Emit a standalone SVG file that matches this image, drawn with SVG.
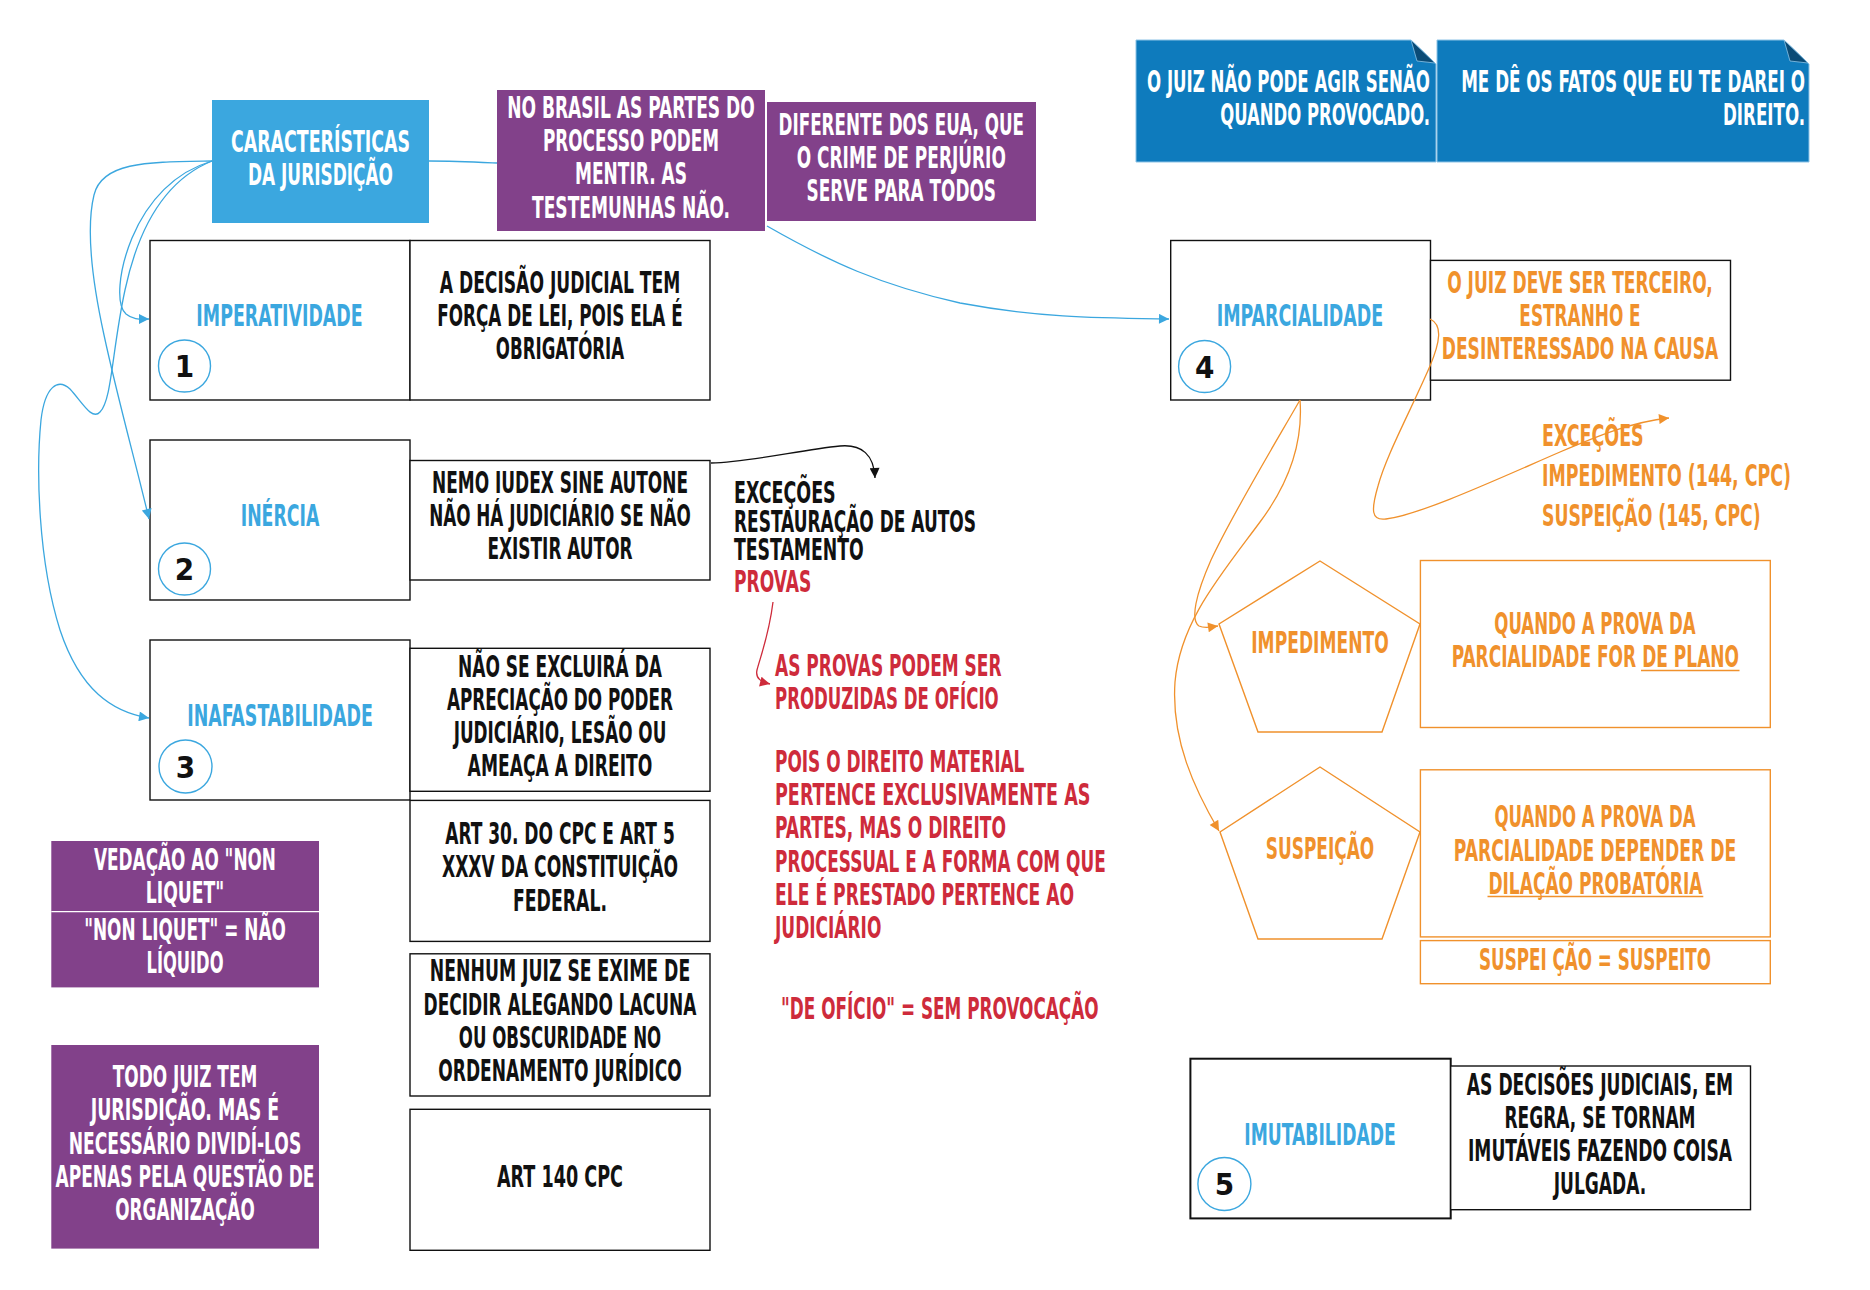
<svg xmlns="http://www.w3.org/2000/svg" width="1870" height="1290" viewBox="0 0 1870 1290">
<defs>
<style>
text{font-family:"Liberation Sans Narrow","DejaVu Sans Condensed","Liberation Sans",sans-serif;font-weight:700;font-size:31px;}
.c{text-anchor:middle}
.e{text-anchor:end}
.w{fill:#ffffff}
.k{fill:#111111}
.b{fill:#3BA7DF}
.o{fill:#F0912C}
.r{fill:#CE2B3B}
.box{fill:#ffffff;stroke:#111111;stroke-width:1.4}
.obox{fill:#ffffff;stroke:#F0912C;stroke-width:1.4}
.circ{fill:#ffffff;stroke:#3BA7DF;stroke-width:1.4}
.bl{fill:none;stroke:#3BA7DF;stroke-width:1.3}
.ol{fill:none;stroke:#F0912C;stroke-width:1.3}
.kl{fill:none;stroke:#111111;stroke-width:1.3}
.rl{fill:none;stroke:#CE2B3B;stroke-width:1.3}
.note{fill:#0E7BBD;stroke:#8CC3E6;stroke-width:1}
.purple{fill:#82418A}
</style>
<marker id="mb" viewBox="0 0 10 10" refX="10" refY="5" markerWidth="15" markerHeight="10" markerUnits="userSpaceOnUse" orient="auto"><path d="M0,0 L10,5 L0,10 z" fill="#3BA7DF"/></marker>
<marker id="mo" viewBox="0 0 10 10" refX="10" refY="5" markerWidth="15" markerHeight="10" markerUnits="userSpaceOnUse" orient="auto"><path d="M0,0 L10,5 L0,10 z" fill="#F0912C"/></marker>
<marker id="mk" viewBox="0 0 10 10" refX="10" refY="5" markerWidth="15" markerHeight="10" markerUnits="userSpaceOnUse" orient="auto"><path d="M0,0 L10,5 L0,10 z" fill="#111111"/></marker>
<marker id="mr" viewBox="0 0 10 10" refX="10" refY="5" markerWidth="15" markerHeight="10" markerUnits="userSpaceOnUse" orient="auto"><path d="M0,0 L10,5 L0,10 z" fill="#CE2B3B"/></marker>
</defs>
<rect x="0" y="0" width="1870" height="1290" fill="#ffffff"/>

<g id="caracteristicas">
<rect x="212" y="100" width="217" height="123" fill="#3BA7DF"/>
<text class="w c" x="320.5" y="152" textLength="179" lengthAdjust="spacingAndGlyphs">CARACTERÍSTICAS</text>
<text class="w c" x="320.5" y="185" textLength="145" lengthAdjust="spacingAndGlyphs">DA JURISDIÇÃO</text>
</g>

<g id="brasil">
<rect x="497" y="90" width="268" height="141" class="purple"/>
<text class="w c" x="631" y="118" textLength="247.6" lengthAdjust="spacingAndGlyphs">NO BRASIL AS PARTES DO</text>
<text class="w c" x="631" y="151" textLength="176" lengthAdjust="spacingAndGlyphs">PROCESSO PODEM</text>
<text class="w c" x="631" y="184" textLength="112" lengthAdjust="spacingAndGlyphs">MENTIR. AS</text>
<text class="w c" x="631" y="218" textLength="198" lengthAdjust="spacingAndGlyphs">TESTEMUNHAS NÃO.</text>
</g>

<g id="eua">
<rect x="767" y="102" width="269" height="119" class="purple"/>
<text class="w c" x="901.3" y="134.5" textLength="245.5" lengthAdjust="spacingAndGlyphs">DIFERENTE DOS EUA, QUE</text>
<text class="w c" x="901.3" y="167.7" textLength="209" lengthAdjust="spacingAndGlyphs">O CRIME DE PERJÚRIO</text>
<text class="w c" x="901.3" y="201" textLength="189.4" lengthAdjust="spacingAndGlyphs">SERVE PARA TODOS</text>
</g>

<g id="note1">
<path class="note" d="M1136,40 L1411,40 L1436,64 L1436,162 L1136,162 Z"/>
<path d="M1411,40 L1435,63 L1417,61 Z" fill="#0A4B76" stroke="#8CC3E6" stroke-width="0.8"/>
<text class="w e" x="1430" y="92" textLength="283" lengthAdjust="spacingAndGlyphs">O JUIZ NÃO PODE AGIR SENÃO</text>
<text class="w e" x="1430" y="125" textLength="209.7" lengthAdjust="spacingAndGlyphs">QUANDO PROVOCADO.</text>
</g>

<g id="note2">
<path class="note" d="M1437,40 L1784,40 L1809,64 L1809,162 L1437,162 Z"/>
<path d="M1784,40 L1808,63 L1790,61 Z" fill="#0A4B76" stroke="#8CC3E6" stroke-width="0.8"/>
<text class="w e" x="1805" y="92" textLength="343.8" lengthAdjust="spacingAndGlyphs">ME DÊ OS FATOS QUE EU TE DAREI O</text>
<text class="w e" x="1805" y="125" textLength="82" lengthAdjust="spacingAndGlyphs">DIREITO.</text>
</g>

<g id="imperatividade">
<rect x="150" y="240.5" width="260" height="159.5" class="box"/>
<text class="b c" x="279.5" y="326" textLength="166.3" lengthAdjust="spacingAndGlyphs">IMPERATIVIDADE</text>
<circle cx="184.5" cy="366" r="26" class="circ"/>
<text class="k c" x="184.5" y="377">1</text>
</g>
<g id="imperatividade-desc">
<rect x="410" y="240.5" width="300" height="159.5" class="box"/>
<text class="k c" x="560" y="293" textLength="240.6" lengthAdjust="spacingAndGlyphs">A DECISÃO JUDICIAL TEM</text>
<text class="k c" x="560" y="326" textLength="245.5" lengthAdjust="spacingAndGlyphs">FORÇA DE LEI, POIS ELA É</text>
<text class="k c" x="560" y="359" textLength="128.4" lengthAdjust="spacingAndGlyphs">OBRIGATÓRIA</text>
</g>

<g id="inercia">
<rect x="150" y="440" width="260" height="160" class="box"/>
<text class="b c" x="280" y="526" textLength="78.6" lengthAdjust="spacingAndGlyphs">INÉRCIA</text>
<circle cx="184.5" cy="569" r="26" class="circ"/>
<text class="k c" x="184.5" y="580">2</text>
</g>
<g id="inercia-desc">
<rect x="410" y="460.5" width="300" height="119.5" class="box"/>
<text class="k c" x="560" y="493" textLength="256" lengthAdjust="spacingAndGlyphs">NEMO IUDEX SINE AUTONE</text>
<text class="k c" x="560" y="526" textLength="261.7" lengthAdjust="spacingAndGlyphs">NÃO HÁ JUDICIÁRIO SE NÃO</text>
<text class="k c" x="560" y="559" textLength="145.2" lengthAdjust="spacingAndGlyphs">EXISTIR AUTOR</text>
</g>

<g id="excecoes-inercia">
<text class="k" x="734" y="503" textLength="101.7" lengthAdjust="spacingAndGlyphs" style="font-size:30px">EXCEÇÕES</text>
<text class="k" x="734" y="532" textLength="242" lengthAdjust="spacingAndGlyphs" style="font-size:30px">RESTAURAÇÃO DE AUTOS</text>
<text class="k" x="734" y="560" textLength="129.8" lengthAdjust="spacingAndGlyphs" style="font-size:30px">TESTAMENTO</text>
<text class="r" x="734" y="592" textLength="77.2" lengthAdjust="spacingAndGlyphs">PROVAS</text>
</g>

<g id="provas-nota">
<text class="r" x="775" y="676" textLength="226.6" lengthAdjust="spacingAndGlyphs">AS PROVAS PODEM SER</text>
<text class="r" x="775" y="709" textLength="223.7" lengthAdjust="spacingAndGlyphs">PRODUZIDAS DE OFÍCIO</text>
<text class="r" x="775" y="772" textLength="249.4" lengthAdjust="spacingAndGlyphs">POIS O DIREITO MATERIAL</text>
<text class="r" x="775" y="805" textLength="315.4" lengthAdjust="spacingAndGlyphs">PERTENCE EXCLUSIVAMENTE AS</text>
<text class="r" x="775" y="838.4" textLength="231" lengthAdjust="spacingAndGlyphs">PARTES, MAS O DIREITO</text>
<text class="r" x="775" y="871.6" textLength="330.8" lengthAdjust="spacingAndGlyphs">PROCESSUAL E A FORMA COM QUE</text>
<text class="r" x="775" y="904.7" textLength="299.2" lengthAdjust="spacingAndGlyphs">ELE É PRESTADO PERTENCE AO</text>
<text class="r" x="775" y="938" textLength="106.4" lengthAdjust="spacingAndGlyphs">JUDICIÁRIO</text>
<text class="r" x="781" y="1018.7" textLength="317.6" lengthAdjust="spacingAndGlyphs">"DE OFÍCIO" = SEM PROVOCAÇÃO</text>
</g>

<g id="inafastabilidade">
<rect x="150" y="640" width="260" height="160" class="box"/>
<text class="b c" x="280" y="725.6" textLength="185.6" lengthAdjust="spacingAndGlyphs">INAFASTABILIDADE</text>
<circle cx="185.5" cy="766.5" r="26.5" class="circ"/>
<text class="k c" x="185.5" y="777.5">3</text>
</g>
<g id="inafastabilidade-desc">
<rect x="410" y="648.3" width="300" height="143" class="box"/>
<text class="k c" x="560" y="676.7" textLength="204" lengthAdjust="spacingAndGlyphs">NÃO SE EXCLUIRÁ DA</text>
<text class="k c" x="560" y="710" textLength="226" lengthAdjust="spacingAndGlyphs">APRECIAÇÃO DO PODER</text>
<text class="k c" x="560" y="743" textLength="212.7" lengthAdjust="spacingAndGlyphs">JUDICIÁRIO, LESÃO OU</text>
<text class="k c" x="560" y="776" textLength="184.8" lengthAdjust="spacingAndGlyphs">AMEAÇA A DIREITO</text>
</g>

<g id="art30">
<rect x="410" y="800.4" width="300" height="141" class="box"/>
<text class="k c" x="560" y="843.8" textLength="229.6" lengthAdjust="spacingAndGlyphs">ART 30. DO CPC E ART 5</text>
<text class="k c" x="560" y="877" textLength="236" lengthAdjust="spacingAndGlyphs">XXXV DA CONSTITUIÇÃO</text>
<text class="k c" x="560" y="911" textLength="94" lengthAdjust="spacingAndGlyphs">FEDERAL.</text>
</g>

<g id="nenhum-juiz">
<rect x="410" y="953.8" width="300" height="142.2" class="box"/>
<text class="k c" x="560" y="981.4" textLength="260.4" lengthAdjust="spacingAndGlyphs">NENHUM JUIZ SE EXIME DE</text>
<text class="k c" x="560" y="1014.6" textLength="272.8" lengthAdjust="spacingAndGlyphs">DECIDIR ALEGANDO LACUNA</text>
<text class="k c" x="560" y="1047.8" textLength="202.4" lengthAdjust="spacingAndGlyphs">OU OBSCURIDADE NO</text>
<text class="k c" x="560" y="1081" textLength="243.5" lengthAdjust="spacingAndGlyphs">ORDENAMENTO JURÍDICO</text>
</g>

<g id="art140">
<rect x="410" y="1109.3" width="300" height="141" class="box"/>
<text class="k c" x="560" y="1186.7" textLength="126" lengthAdjust="spacingAndGlyphs">ART 140 CPC</text>
</g>

<g id="non-liquet">
<rect x="51.3" y="841" width="267.7" height="146.4" class="purple"/>
<line x1="51.3" y1="911.6" x2="319" y2="911.6" stroke="#ffffff" stroke-width="1.2"/>
<text class="w c" x="185" y="869.5" textLength="182" lengthAdjust="spacingAndGlyphs">VEDAÇÃO AO "NON</text>
<text class="w c" x="185" y="902.7" textLength="78.5" lengthAdjust="spacingAndGlyphs">LIQUET"</text>
<text class="w c" x="185" y="940" textLength="201.7" lengthAdjust="spacingAndGlyphs">"NON LIQUET" = NÃO</text>
<text class="w c" x="185" y="973" textLength="77" lengthAdjust="spacingAndGlyphs">LÍQUIDO</text>
</g>

<g id="todo-juiz">
<rect x="51.3" y="1045" width="267.7" height="203.6" class="purple"/>
<text class="w c" x="185" y="1087" textLength="144.5" lengthAdjust="spacingAndGlyphs">TODO JUIZ TEM</text>
<text class="w c" x="185" y="1120.3" textLength="188.5" lengthAdjust="spacingAndGlyphs">JURISDIÇÃO. MAS É</text>
<text class="w c" x="185" y="1153.5" textLength="232.5" lengthAdjust="spacingAndGlyphs">NECESSÁRIO DIVIDÍ-LOS</text>
<text class="w c" x="185" y="1186.7" textLength="259" lengthAdjust="spacingAndGlyphs">APENAS PELA QUESTÃO DE</text>
<text class="w c" x="185" y="1219.8" textLength="139.4" lengthAdjust="spacingAndGlyphs">ORGANIZAÇÃO</text>
</g>

<g id="imparcialidade">
<rect x="1170.7" y="240.5" width="259.8" height="159.5" class="box"/>
<text class="b c" x="1300" y="326" textLength="166.5" lengthAdjust="spacingAndGlyphs">IMPARCIALIDADE</text>
<circle cx="1204.6" cy="366.5" r="26" class="circ"/>
<text class="k c" x="1204.6" y="377.5">4</text>
</g>
<g id="imparcialidade-desc">
<rect x="1430.5" y="260.4" width="300" height="119.8" class="box"/>
<text class="o c" x="1580" y="293" textLength="265.7" lengthAdjust="spacingAndGlyphs">O JUIZ DEVE SER TERCEIRO,</text>
<text class="o c" x="1580" y="326" textLength="121.3" lengthAdjust="spacingAndGlyphs">ESTRANHO E</text>
<text class="o c" x="1580" y="359" textLength="276.5" lengthAdjust="spacingAndGlyphs">DESINTERESSADO NA CAUSA</text>
</g>

<g id="excecoes-imparcialidade">
<text class="o" x="1542" y="446" textLength="101.7" lengthAdjust="spacingAndGlyphs">EXCEÇÕES</text>
<text class="o" x="1542" y="486" textLength="249" lengthAdjust="spacingAndGlyphs">IMPEDIMENTO (144, CPC)</text>
<text class="o" x="1542" y="526" textLength="218.6" lengthAdjust="spacingAndGlyphs">SUSPEIÇÃO (145, CPC)</text>
</g>

<g id="impedimento">
<polygon points="1320,561 1420,624 1382,732 1258,732 1219,624" class="obox"/>
<text class="o c" x="1320" y="652.6" textLength="137.5" lengthAdjust="spacingAndGlyphs">IMPEDIMENTO</text>
</g>
<g id="impedimento-desc">
<rect x="1420.4" y="560.5" width="349.9" height="167" class="obox"/>
<text class="o c" x="1595" y="634" textLength="201.4" lengthAdjust="spacingAndGlyphs">QUANDO A PROVA DA</text>
<text class="o c" x="1595.4" y="667" textLength="287.4" lengthAdjust="spacingAndGlyphs">PARCIALIDADE FOR DE PLANO</text>
<line x1="1641" y1="670.5" x2="1739.5" y2="670.5" stroke="#F0912C" stroke-width="1.6"/>
</g>

<g id="suspeicao">
<polygon points="1320,767 1420,832 1382,939 1258,939 1220,832" class="obox"/>
<text class="o c" x="1320" y="859" textLength="108.4" lengthAdjust="spacingAndGlyphs">SUSPEIÇÃO</text>
</g>
<g id="suspeicao-desc">
<rect x="1420.4" y="769.8" width="349.9" height="167.1" class="obox"/>
<text class="o c" x="1595" y="827.4" textLength="201" lengthAdjust="spacingAndGlyphs">QUANDO A PROVA DA</text>
<text class="o c" x="1595" y="860.5" textLength="282.4" lengthAdjust="spacingAndGlyphs">PARCIALIDADE DEPENDER DE</text>
<text class="o c" x="1595.4" y="893.6" textLength="214" lengthAdjust="spacingAndGlyphs">DILAÇÃO PROBATÓRIA</text>
<line x1="1487.5" y1="896.5" x2="1703.3" y2="896.5" stroke="#F0912C" stroke-width="1.6"/>
</g>
<g id="suspeito">
<rect x="1420.4" y="940.6" width="349.9" height="43.1" class="obox"/>
<text class="o c" x="1595" y="969.5" textLength="231.9" lengthAdjust="spacingAndGlyphs">SUSPEI ÇÃO = SUSPEITO</text>
</g>

<g id="imutabilidade">
<rect x="1190.4" y="1058.7" width="260.3" height="159.7" class="box" style="stroke-width:2"/>
<text class="b c" x="1320" y="1145" textLength="151.5" lengthAdjust="spacingAndGlyphs">IMUTABILIDADE</text>
<circle cx="1224.4" cy="1184" r="26.5" class="circ"/>
<text class="k c" x="1224.4" y="1195">5</text>
</g>
<g id="imutabilidade-desc">
<rect x="1450.7" y="1066" width="299.8" height="143.7" class="box"/>
<text class="k c" x="1600" y="1095" textLength="266.3" lengthAdjust="spacingAndGlyphs">AS DECISÕES JUDICIAIS, EM</text>
<text class="k c" x="1600" y="1128" textLength="191" lengthAdjust="spacingAndGlyphs">REGRA, SE TORNAM</text>
<text class="k c" x="1600" y="1161" textLength="264" lengthAdjust="spacingAndGlyphs">IMUTÁVEIS FAZENDO COISA</text>
<text class="k c" x="1600" y="1194" textLength="92.7" lengthAdjust="spacingAndGlyphs">JULGADA.</text>
</g>

<g id="connectors">
<path class="bl" d="M429,161 C455,161 475,162 497,163"/>
<path class="bl" marker-end="url(#mb)" d="M212,161 C150,162 102,161 94,195 C86,228 92,280 104,335 C118,400 135,460 149,519"/>
<path class="bl" marker-end="url(#mb)" d="M212,161 C175,172 148,200 132,238 C118,272 116,305 126,314 C133,320 141,319 149,319"/>
<path class="bl" marker-end="url(#mb)" d="M212,161 C170,178 140,220 125,290 C112,350 112,400 100,412 C92,421 82,402 70,389 C58,378 45,386 41,420 C36,470 38,560 60,630 C80,690 112,712 149,718"/>
<path class="bl" marker-end="url(#mb)" d="M767,226 C830,262 880,285 960,303 C1040,318 1100,318 1169,319"/>
<path class="kl" marker-end="url(#mk)" d="M711,463 C750,462 800,450 840,446 C862,444 874,455 875,478"/>
<path class="rl" marker-end="url(#mr)" d="M773,602 C769,635 760,658 757,670 C755,679 762,682 770,684"/>
<path class="ol" marker-end="url(#mo)" d="M1430,319 C1443,325 1440,342 1430,366 C1410,412 1386,456 1378,486 C1371,510 1371,521 1386,519 C1420,515 1500,478 1560,452 C1600,435 1632,422 1669,418"/>
<path class="ol" marker-end="url(#mo)" d="M1300,400 C1270,452 1232,515 1211,560 C1196,594 1190,620 1199,626 C1205,629 1211,627 1218,626"/>
<path class="ol" marker-end="url(#mo)" d="M1300,400 C1303,440 1290,482 1260,522 C1220,576 1180,622 1175,682 C1171,740 1195,790 1219,831"/>
</g>
</svg>
